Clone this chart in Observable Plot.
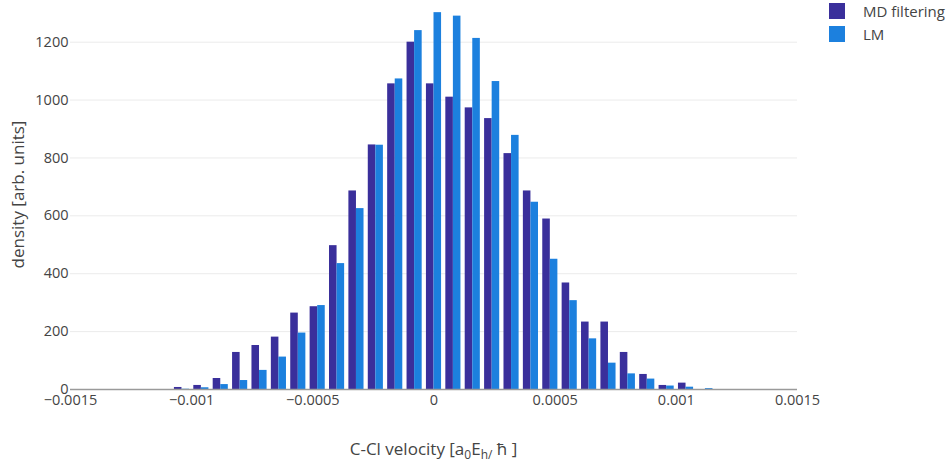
<!DOCTYPE html>
<html><head><meta charset="utf-8">
<script src="https://cdn.jsdelivr.net/npm/d3@7"></script>
<script src="https://cdn.jsdelivr.net/npm/@observablehq/plot@0.6"></script>
<style>
body{margin:0;background:#fff;font-family:"Open Sans",sans-serif;overflow:hidden;}
#wrap{position:relative;width:947px;height:467px;}
.legend{position:absolute;left:829px;top:-1px;font-size:15px;color:#444;font-family:"Open Sans",sans-serif;}
.legend .item{display:flex;align-items:center;height:23px;}
.legend .sw{width:16px;height:16px;margin-right:18px;display:inline-block;}
</style></head><body>
<div id="wrap"></div>
<script>
// bin centres (C-Cl velocity)
const bins = [-0.00104,-0.00096,-0.00088,-0.0008,-0.00072,-0.00064,-0.00056,-0.00048,-0.0004,-0.00032,-0.00024,-0.00016,-0.00008,0,
  0.00008,0.00016,0.00024,0.00032,0.0004,0.00048,0.00056,0.00064,0.00072,0.0008,0.00088,0.00096,0.00104,0.00112];
const mdFiltering = [7,14,38,128,152,181,264,286,497,686,845,1056,1200,1056,
  1010,973,936,815,686,589,368,233,233,128,52,14,22,0];
const lm = [1,6,17,31,66,112,195,290,435,625,844,1073,1240,1302,
  1290,1213,1064,878,647,450,307,175,91,54,36,12,8,3];
const seriesNames = ["MD filtering","LM"];
const seriesColors = ["#3a2f9b","#1c80de"];
const xTicks = [-0.0015,-0.001,-0.0005,0,0.0005,0.001,0.0015];
const yTicks = [0,200,400,600,800,1000,1200];
const binWidth = 0.00008;

const rows = [];
bins.forEach((b,i)=>{
  rows.push({bin:b, series:seriesNames[0], slot:0, value:mdFiltering[i]});
  rows.push({bin:b, series:seriesNames[1], slot:1, value:lm[i]});
});
const gap = 0.22;
const half = binWidth*(1-gap)/2;

const W=947,H=467,mL=70,mR=150,mT=0,mB=78;
const chart = Plot.plot({
  width:W, height:H, marginLeft:mL, marginRight:mR, marginTop:mT, marginBottom:mB,
  style:{fontFamily:"Open Sans, sans-serif", fontSize:"14.5px", color:"#444", background:"#fff"},
  x:{domain:[-0.0015,0.0015], ticks:xTicks, tickSize:0, tickPadding:5, label:null,
     tickFormat:d=> d===0 ? "0" : (d<0?"\u2212":"")+Math.abs(d)},
  y:{domain:[0,1344], ticks:yTicks, tickSize:0, tickPadding:2, label:null, tickFormat:d=>String(d)},
  color:{domain:seriesNames, range:seriesColors},
  marks:[
    Plot.ruleY(yTicks.filter(v=>v>0), {stroke:"#ebebeb", strokeWidth:1}),
    Plot.rectY(rows, {x1:d=>d.bin-half+d.slot*half, x2:d=>d.bin+d.slot*half, y:"value", fill:"series"}),
    Plot.ruleY([0], {stroke:"#9a9a9a", strokeWidth:1.6})
  ]
});
document.getElementById("wrap").appendChild(chart);

let sx;
try { sx = chart.scale("x").apply; } catch(e) { sx = v => mL + (v+0.0015)/0.003*(W-mL-mR); }
const svg = d3.select(chart);
const xt = svg.append("text")
  .attr("x", sx(0)).attr("y", 455)
  .attr("text-anchor","middle").attr("fill","#444")
  .style("font-size","17px").style("font-family","Open Sans, sans-serif");
xt.append("tspan").text("C-Cl velocity [a");
xt.append("tspan").attr("dy",4).style("font-size","12px").text("0");
xt.append("tspan").attr("dy",-4).text("E");
xt.append("tspan").attr("dy",4).style("font-size","12px").text("h/");
xt.append("tspan").attr("dy",-4).text(" \u0127 ]");

svg.append("text")
  .attr("transform", `translate(24,${(H-mB+mT)/2}) rotate(-90)`)
  .attr("text-anchor","middle").attr("fill","#444")
  .style("font-size","17px").style("font-family","Open Sans, sans-serif")
  .text("density [arb. units]");

const leg = document.createElement("div");
leg.className="legend";
seriesNames.forEach((n,i)=>{
  const it=document.createElement("div"); it.className="item";
  const sw=document.createElement("span"); sw.className="sw"; sw.style.background=seriesColors[i];
  const t=document.createElement("span"); t.textContent=n;
  it.appendChild(sw); it.appendChild(t); leg.appendChild(it);
});
document.getElementById("wrap").appendChild(leg);
</script>
</body></html>
